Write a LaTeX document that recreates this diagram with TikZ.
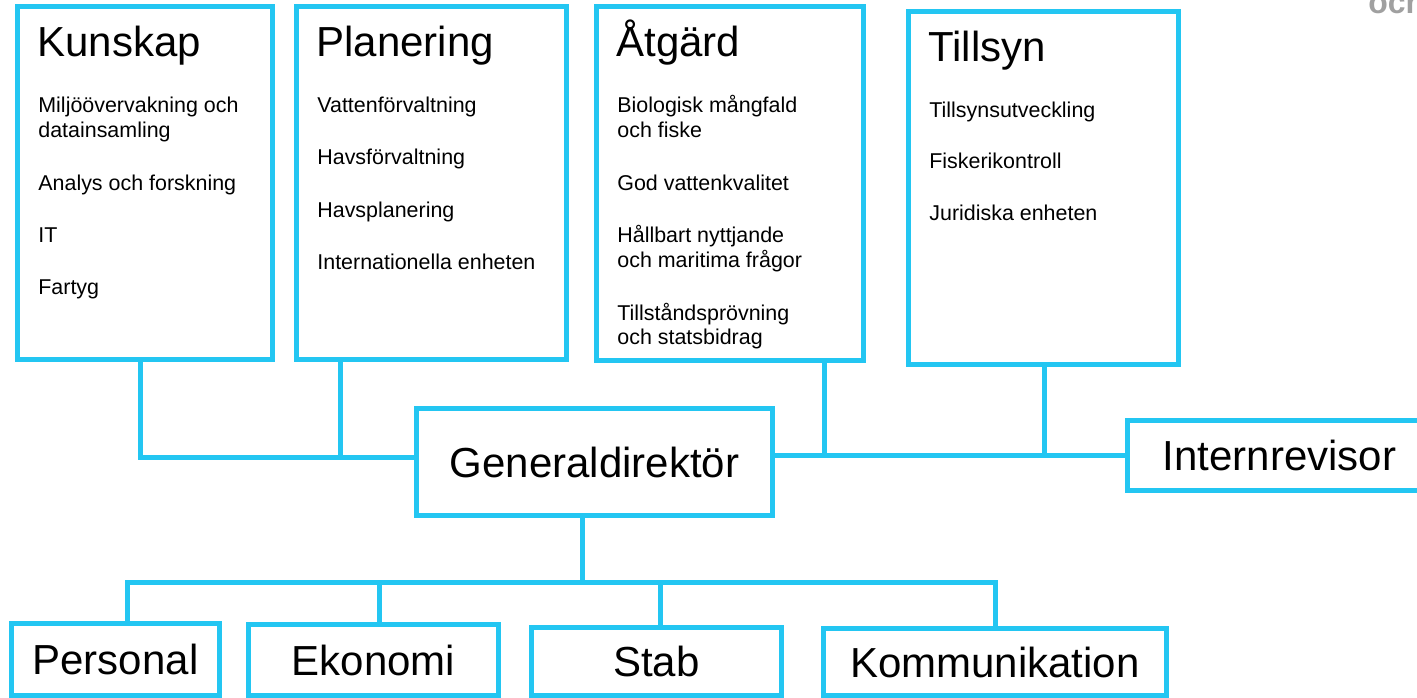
\documentclass[tikz,border=0pt]{standalone}
\usepackage{fontspec}
\setmainfont{Liberation Sans}
\usetikzlibrary{positioning, calc}

\definecolor{orgblue}{RGB}{35,198,242}
\definecolor{ochgray}{RGB}{160,160,160}

\tikzset{
  unit/.style={draw=orgblue, line width=0.1cm, fill=white, outer sep=0pt, inner sep=0pt},
  link/.style={draw=orgblue, line width=0.1cm},
  bigtext/.style={font=\fontsize{23.9}{28}\selectfont, text height=0.62cm, text depth=0pt},
  headtext/.style={anchor=base west, inner sep=0pt, font=\fontsize{23.9}{28}\selectfont},
  itemtext/.style={anchor=base west, inner sep=0pt, font=\fontsize{12.2}{14.2}\selectfont},
}

\begin{document}
\begin{tikzpicture}[x=0.02cm, y=-0.02cm]
    \useasboundingbox (0,0) rectangle (1417,697);
    \clip (0,0) rectangle (1417,697);

    % corner text, cut off by the page
    \node[anchor=base west, inner sep=0pt, text=ochgray, font=\fontsize{18.2}{20}\selectfont\bfseries] (och) at (1368,13) {och};

    % TOP ROW: divisions
    \node[unit, minimum width=5.12cm, minimum height=7.08cm] (kunskap) at (145,183) {};
    \node[unit, minimum width=5.42cm, minimum height=7.08cm] (planering) at (431.5,183) {};
    \node[unit, minimum width=5.36cm, minimum height=7.10cm] (atgard) at (730,183.5) {};
    \node[unit, minimum width=5.42cm, minimum height=7.08cm] (tillsyn) at (1043.5,188) {};

    \foreach \b/\t in {kunskap/Kunskap, planering/Planering, atgard/Åtgärd, tillsyn/Tillsyn} {
        \node[headtext] (\b-head) at ($(\b.north west)+(20,50)$) {\t};
    }

    % units of each division
    \foreach \dy/\t [count=\i] in {106/Miljöövervakning och, 131/datainsamling, 184/Analys och forskning, 236/IT, 288/Fartyg} {
        \node[itemtext] (kunskap-\i) at ($(kunskap.north west)+(21,\dy)$) {\t};
    }
    \foreach \dy/\t [count=\i] in {106/Vattenförvaltning, 158.5/Havsförvaltning, 211/Havsplanering, 263.5/Internationella enheten} {
        \node[itemtext] (planering-\i) at ($(planering.north west)+(21,\dy)$) {\t};
    }
    \foreach \dy/\t [count=\i] in {106/Biologisk mångfald, 131/och fiske, 184/God vattenkvalitet, 236/Hållbart nyttjande, 261/och maritima frågor, 314/Tillståndsprövning, 338.5/och statsbidrag} {
        \node[itemtext] (atgard-\i) at ($(atgard.north west)+(21,\dy)$) {\t};
    }
    \foreach \dy/\t [count=\i] in {106/Tillsynsutveckling, 157/Fiskerikontroll, 209/Juridiska enheten} {
        \node[itemtext] (tillsyn-\i) at ($(tillsyn.north west)+(21,\dy)$) {\t};
    }

    % MIDDLE: director and internal audit
    \node[unit, bigtext, minimum width=7.14cm, minimum height=2.16cm] (gd) at (594.5,462) {Generaldirektör};
    \node[unit, bigtext, minimum width=6.10cm, minimum height=1.40cm] (intern) at (1279.5,455) {Internrevisor};

    % BOTTOM ROW: staff functions
    \foreach \b/\x/\y/\w/\h/\t in {personal/115.5/659/4.18/1.44/Personal, ekonomi/373.5/659.5/5.02/1.42/Ekonomi, stab/656.5/661/5.02/1.36/Stab, komm/995/661.5/6.88/1.34/Kommunikation} {
        \node[unit, bigtext, minimum width=\w cm, minimum height=\h cm] (\b) at (\x,\y) {\t};
    }

    % stems and buses
    \coordinate (kstem) at (140,0);
    \coordinate (pstem) at (340,0);
    \coordinate (astem) at (824,0);
    \coordinate (tstem) at (1044,0);
    \coordinate (lbus) at ([yshift=0.1cm]gd.west);

    \draw[link] (kunskap.south -| kstem) |- (lbus);
    \draw[link] (planering.south -| pstem) -- (pstem |- lbus);
    \draw[link] (gd.east |- intern.west) -- (intern.west);
    \draw[link] (atgard.south -| astem) -- (astem |- intern.west);
    \draw[link] (tillsyn.south -| tstem) -- (tstem |- intern.west);

    \coordinate (bbus) at (582,582);
    \draw[link] (gd.south -| bbus) -- (bbus);
    \foreach \b/\x in {personal/127, ekonomi/379, stab/660, komm/995} {
        \coordinate (drop-\b) at (\x,582);
    }
    \draw[link] (personal.north -| drop-personal) -- (drop-personal) -- (drop-komm) -- (komm.north -| drop-komm);
    \draw[link] (drop-ekonomi) -- (ekonomi.north -| drop-ekonomi);
    \draw[link] (drop-stab) -- (stab.north -| drop-stab);

\end{tikzpicture}
\end{document}
